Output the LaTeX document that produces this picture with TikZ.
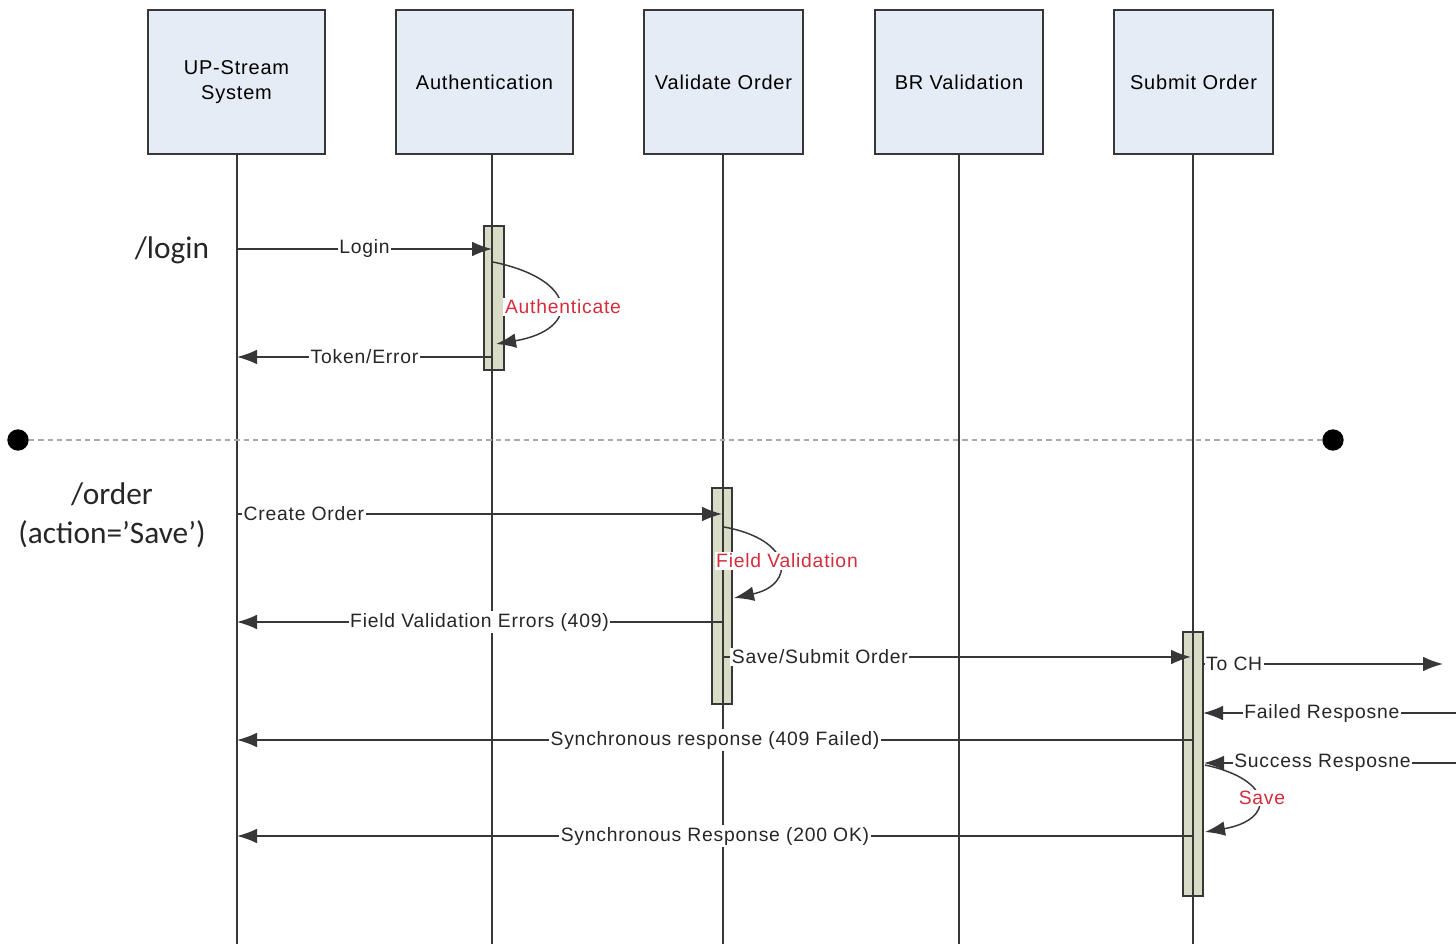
\documentclass[tikz,border=0pt]{standalone}
\usepackage{fontspec}
\setmainfont[LetterSpace=4]{Liberation Sans}
\newfontfamily\calibfont{Carlito}
\usetikzlibrary{arrows.meta}
\definecolor{hdrfill}{RGB}{230,236,246}
\definecolor{barfill}{RGB}{216,220,198}
\definecolor{lc}{RGB}{55,55,55}
\definecolor{redlbl}{RGB}{212,45,60}
\definecolor{dashc}{RGB}{170,170,170}
\begin{document}
\begin{tikzpicture}[x=0.75pt,y=-0.75pt,
  hdr/.style={draw=lc,line width=1.4pt,fill=hdrfill,minimum height=108pt,align=center,
    font=\fontsize{15}{19}\selectfont,inner sep=0pt},
  actbar/.style={draw=lc,line width=1.1pt,fill=barfill,minimum width=15pt,inner sep=0pt},
  life/.style={draw=lc,line width=1.1pt},
  msg/.style={draw=lc,line width=1.1pt,-{Latex[length=15pt,width=11pt]}},
  lbl/.style={fill=white,inner sep=1.2pt,text=black!85,font=\fontsize{14.5}{17}\selectfont},
  redl/.style={fill=white,inner sep=1.2pt,text=redlbl,font=\fontsize{14.5}{17}\selectfont},
  big/.style={font=\calibfont\fontsize{23.5}{29}\selectfont,text=black!85,align=center},
  dot/.style={circle,fill=black,minimum size=16pt,inner sep=0pt}
]
\useasboundingbox (0,0) rectangle (1456,944);

% header boxes
\node[hdr,minimum width=132.75pt] (up) at (236.5,82) {UP-Stream\\System};
\node[hdr,minimum width=132.75pt] (auth) at (484.5,82) {Authentication};
\node[hdr,minimum width=119.25pt] (val) at (723.5,82) {Validate Order};
\node[hdr,minimum width=126pt] (br) at (959,82) {BR Validation};
\node[hdr,minimum width=119.25pt] (sub) at (1193.5,82) {Submit Order};

% activation bars
\node[actbar,minimum height=108pt] (authbar) at (494,298) {};
\node[actbar,minimum height=162pt] (valbar) at (722,596) {};
\node[actbar,minimum height=198pt] (subbar) at (1193,764) {};

% lifelines
\coordinate (upT) at (237,154);  \coordinate (upB) at (237,944);
\coordinate (auT) at (492,154);  \coordinate (auB) at (492,944);
\coordinate (vaT) at (723,154);  \coordinate (vaB) at (723,944);
\coordinate (brT) at (959,154);  \coordinate (brB) at (959,944);
\coordinate (suT) at (1193,154); \coordinate (suB) at (1193,944);
\draw[life] (upT) -- (upB);
\draw[life] (auT) -- (auB);
\draw[life] (vaT) -- (vaB);
\draw[life] (brT) -- (brB);
\draw[life] (suT) -- (suB);

% separator
\node[dot] (dl) at (18,440) {};
\node[dot] (dr) at (1333,440) {};
\draw[dashc,line width=0.8pt,dash pattern=on 4pt off 3pt] (dl) -- (dr);

% big labels
\node[big] (lg) at (172,250) {/login};
\node[big] (ord) at (112,515) {/order\\(action=’Save’)};

% login section
\coordinate (m1s) at (237,249); \coordinate (m1e) at (492,249);
\draw[msg] (m1s) -- node[lbl]{Login} (m1e);
\coordinate (a1s) at (493,262); \coordinate (a1e) at (496,344);
\draw[msg] (a1s) .. controls (580,280) and (580,330) .. (a1e);
\node[redl] (authlbl) at (563,307) {Authenticate};
\coordinate (m2s) at (492,357); \coordinate (m2e) at (237,357);
\draw[msg] (m2s) -- node[lbl]{Token/Error} (m2e);

% order section
\coordinate (m3s) at (237,514); \coordinate (m3e) at (722,514);
\draw[msg] (m3s) -- node[lbl,pos=0.138]{Create Order} (m3e);
\coordinate (f1s) at (724,527); \coordinate (f1e) at (734,598);
\draw[msg] (f1s) .. controls (795,540) and (795,585) .. (f1e);
\node[redl] (fvlbl) at (787,561) {Field Validation};
\coordinate (m4s) at (722,622); \coordinate (m4e) at (237,622);
\draw[msg] (m4s) -- node[lbl]{Field Validation Errors (409)} (m4e);
\coordinate (m5s) at (723,657); \coordinate (m5e) at (1191,657);
\draw[msg] (m5s) -- node[lbl,pos=0.207]{Save/Submit Order} (m5e);
\coordinate (m6s) at (1203,664); \coordinate (m6e) at (1443,664);
\draw[msg] (m6s) -- node[lbl,pos=0.13]{To CH} (m6e);
\coordinate (m7s) at (1456,713); \coordinate (m7e) at (1203,713);
\draw[msg] (m7s) -- node[lbl,pos=0.53]{Failed Resposne} (m7e);
\coordinate (m8s) at (1193,740); \coordinate (m8e) at (237,740);
\draw[msg] (m8s) -- node[lbl]{Synchronous response (409 Failed)} (m8e);
\coordinate (m9s) at (1456,763); \coordinate (m9e) at (1204,763);
\draw[msg] (m9s) -- node[lbl,pos=0.53]{Success Resposne} (m9e);
\coordinate (s1s) at (1205,765); \coordinate (s1e) at (1205,832);
\draw[msg] (s1s) .. controls (1275,780) and (1275,820) .. (s1e);
\node[redl] (savelbl) at (1262,798) {Save};
\coordinate (m10s) at (1193,836); \coordinate (m10e) at (237,836);
\draw[msg] (m10s) -- node[lbl]{Synchronous Response (200 OK)} (m10e);
\end{tikzpicture}
\end{document}
